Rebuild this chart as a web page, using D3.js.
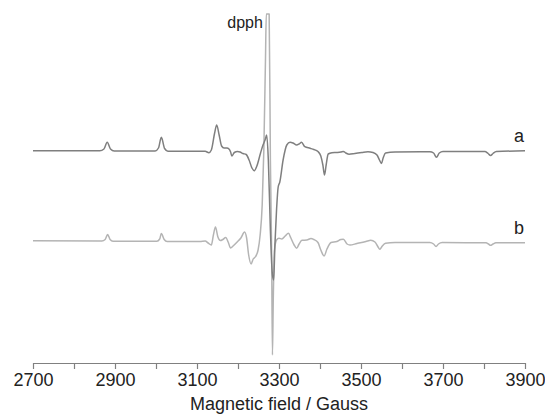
<!DOCTYPE html>
<html>
<head>
<meta charset="utf-8">
<script src="https://cdn.jsdelivr.net/npm/d3@7"></script>
<style>
  html, body { margin: 0; padding: 0; background: #fff; }
  svg { display: block; }
  text { font-family: "Liberation Sans", Arial, Helvetica, sans-serif; }
</style>
</head>
<body>
<svg id="chart" width="545" height="416"></svg>
<script>
// ---- data (magnetic field in Gauss, derivative intensity in a.u.) ----
const fieldA = [2700,2863,2873,2881,2889,2898,2998,3006,3013,3021,3029,3120,3129,3135,3143,3148,3154,3160,3166,3173,3178,3182,3185,3191,3199,3205,3212,3220,3227,3234,3240,3246,3255,3261,3266,3270,3274,3279,3284,3287,3290,3294,3298,3302,3310,3319,3327,3334,3343,3349,3355,3363,3376,3385,3395,3402,3407,3411,3415,3420,3429,3441,3451,3457,3463,3471,3485,3502,3517,3529,3539,3545,3550,3554,3560,3583,3668,3677,3684,3691,3700,3802,3810,3816,3822,3830,3900];
const intensityA = [0.3,0.2,2,8.7,2,0,0,3,13.7,2.5,-0.2,-0.3,-1.7,1,18,26,16,5,3,3,2,-1,-5,-1.5,-0.5,-1,-2.5,-3.5,-9,-17,-19.7,-15,-2,6,11,16,-9,-79,-124,-129,-94,-59,-36,-31,-9,6,8.7,8,6,7,8.7,4.3,2.7,1.5,-0.5,-5,-14,-24,-14,-3,-1.8,-1.5,-1,-0.4,-2,-3.3,-2.5,-1.5,-0.7,-1.5,-4,-9,-12.5,-7,-2,-1,-0.7,-2,-6.3,-2,-0.5,-0.6,-2.5,-4.5,-2.5,-0.6,0.2];

const fieldB = [2700,2868,2876,2882,2888,2895,3002,3009,3013,3020,3027,3107,3120,3127,3135,3140,3145,3151,3157,3163,3170,3176,3182,3188,3198,3207,3216,3221,3226,3232,3237,3243,3249,3254,3259,3263,3267,3269,3276,3279,3282,3284,3286,3289,3294,3300,3307,3315,3323,3329,3337,3343,3349,3356,3368,3378,3385,3395,3402,3410,3417,3427,3441,3451,3457,3466,3473,3490,3512,3524,3534,3541,3546,3552,3560,3583,3668,3677,3683,3689,3698,3805,3811,3816,3822,3829,3900];
const intensityB = [0.3,0,1.5,6.5,1.5,-0.2,-0.3,2,7.5,1.5,-0.5,-0.5,0,-2,-4,6,14,4,0.5,1.5,3.5,-1,-7,-5,-1,3,9,3,-14,-23,-18,-15.5,-9,6,36,91,181,227,227,81,-9,-114,-59,-9,1,2.7,2,5,7.7,3,-4,-7.3,-3,0.7,1,2.5,1.5,-1.5,-9,-15,-8,-1.5,-0.5,1.5,1.7,-3,-4,-2.5,-0.5,0.7,-1,-5.5,-8.3,-5,-2.3,-1.6,-1.4,-3,-5.5,-3,-1.6,-1.7,-3,-4.3,-3,-1.8,-1.7];

const seriesNames = ["a", "b"];
const seriesOffsets = [212, 122];   // vertical stacking offsets (a.u.)
const tickValues = [2700,2800,2900,3000,3100,3200,3300,3400,3500,3600,3700,3800,3900];
const tickLabels = ["2700","","2900","","3100","","3300","","3500","","3700","","3900"];
const markerLabel = "dpph";
const markerField = 3268;
const axisTitle = "Magnetic field / Gauss";

// ---- drawing ----
const svg = d3.select("#chart");
const x = d3.scaleLinear().domain([2700, 3900]).range([33, 525]);
const y = d3.scaleLinear().domain([0, 350]).range([363, 13]);

const series = [
  { name: seriesNames[0], field: fieldA, vals: intensityA, off: seriesOffsets[0], color: "#7f7f7f" },
  { name: seriesNames[1], field: fieldB, vals: intensityB, off: seriesOffsets[1], color: "#b4b4b4" }
];

const line = d3.line().curve(d3.curveMonotoneX);

// draw b first then a on top
[series[1], series[0]].forEach(s => {
  const pts = s.field.map((f, i) => [x(f), y(s.vals[i] + s.off)]);
  svg.append("path")
    .attr("d", line(pts))
    .attr("fill", "none")
    .attr("stroke", s.color)
    .attr("stroke-width", 1.5)
    .attr("stroke-linejoin", "round");
});

// series labels
series.forEach(s => {
  const last = s.field.length - 1;
  svg.append("text")
    .attr("x", x(s.field[last]) - 6)
    .attr("y", y(s.vals[last] + s.off) - 9)
    .attr("text-anchor", "middle")
    .attr("font-size", 18)
    .attr("fill", "#222")
    .text(s.name);
});

// dpph marker label
svg.append("text")
  .attr("x", x(markerField) - 3)
  .attr("y", 28)
  .attr("text-anchor", "end")
  .attr("font-size", 16)
  .attr("fill", "#222")
  .text(markerLabel);

// x axis
const axis = d3.axisBottom(x)
  .tickValues(tickValues)
  .tickFormat((d, i) => tickLabels[i])
  .tickSize(6)
  .tickSizeOuter(0)
  .tickPadding(4);

const gAxis = svg.append("g")
  .attr("transform", `translate(0,${y(0)})`)
  .call(axis);
gAxis.select(".domain").attr("stroke", "#808080").attr("stroke-width", 1.2);
gAxis.selectAll(".tick line").attr("stroke", "#808080").attr("stroke-width", 1.2);
gAxis.selectAll(".tick text")
  .attr("font-size", 18)
  .attr("fill", "#222")
  .attr("font-family", "'Liberation Sans', Arial, sans-serif");

// axis title
svg.append("text")
  .attr("x", x(3300))
  .attr("y", 410)
  .attr("text-anchor", "middle")
  .attr("font-size", 18)
  .attr("fill", "#222")
  .text(axisTitle);
</script>
</body>
</html>
